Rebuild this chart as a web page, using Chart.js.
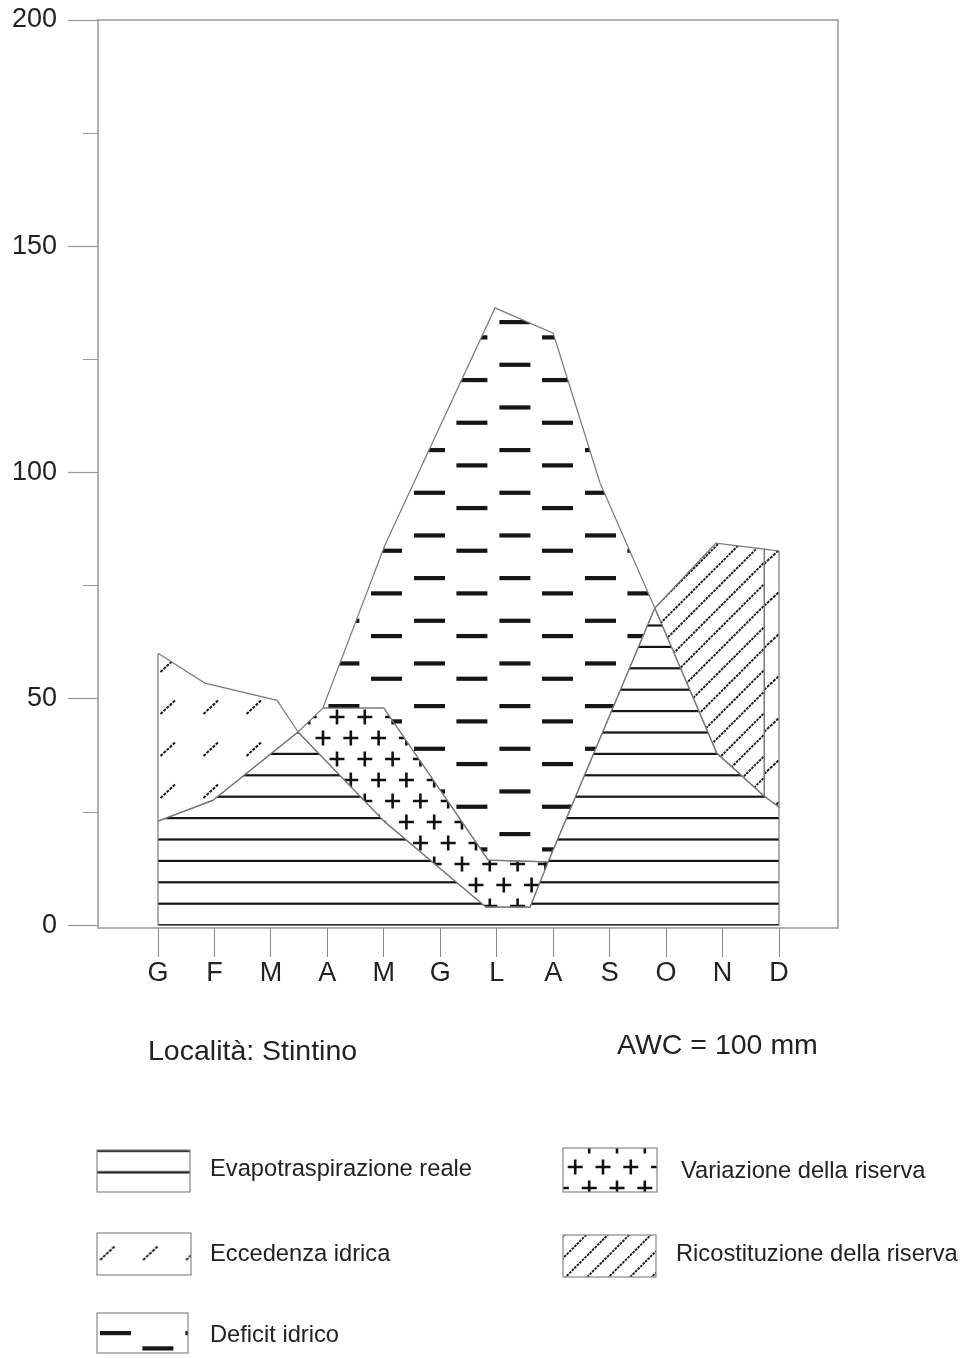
<!DOCTYPE html>
<html>
<head>
<meta charset="utf-8">
<script src="https://cdn.jsdelivr.net/npm/chart.js@4.4.1/dist/chart.umd.min.js"></script>
<style>
  html, body { margin: 0; padding: 0; background: #fff; }
  canvas { display: block; }
</style>
</head>
<body>
<canvas id="bilancio" width="962" height="1358"></canvas>
<script>
// mesi, G = gennaio ... D = dicembre
const months = ['G', 'F', 'M', 'A', 'M', 'G', 'L', 'A', 'S', 'O', 'N', 'D'];
const yTicks = [0, 25, 50, 75, 100, 125, 150, 175, 200];

// spezzate: [mese (0 = G), mm]
const precipitazioni = [[0, 60.1], [0.83, 53.5], [2.11, 49.7], [2.48, 42.7], [4.02, 22.8], [5.81, 4], [6.59, 4], [6.91, 14], [8.8, 70.1], [9.88, 84.4], [10.74, 83.1], [11, 82.7]];
const evapPotenziale = [[0, 23], [0.97, 27.6], [2.48, 42.7], [2.92, 48], [4.02, 84], [5.97, 136.4], [7, 130.8], [7.83, 97.7], [8.8, 70.1], [9.9, 38], [10.74, 28.5], [11, 26.1]];
const evapReale = [[2.92, 48], [4.0, 48], [5.85, 14.4], [6.91, 14]];

// tratto di una spezzata, da i a j (anche a ritroso)
function seg(line, i, j) {
  const out = [];
  const step = i <= j ? 1 : -1;
  for (let k = i; k !== j + step; k += step) out.push(line[k]);
  return out;
}

const P = precipitazioni, PE = evapPotenziale, ER = evapReale;
const areaETR = [[0, 0], ...seg(PE, 0, 2), ...seg(P, 4, 8), ...seg(PE, 9, 11), [11, 0]];
const areaEccedenza1 = [...seg(P, 0, 3), ...seg(PE, 1, 0)];
const areaEccedenza2 = [...seg(P, 10, 11), ...seg(PE, 11, 10)];
const areaDeficit = [...seg(PE, 3, 8), ...seg(ER, 3, 0)];
const areaVariazione = [...seg(PE, 2, 3), ...seg(ER, 1, 3), ...seg(P, 6, 4)];
const areaRicostituzione = [...seg(P, 8, 10), ...seg(PE, 10, 9)];

const canvas = document.getElementById('bilancio');
const c2d = canvas.getContext('2d');

// retini (pattern) per le campiture
function makePattern(w, h, draw) {
  const t = document.createElement('canvas');
  t.width = w; t.height = h;
  const g = t.getContext('2d');
  const at = (x, y, mark) => {
    const bx = ((x % w) + w) % w, by = ((y % h) + h) % h;
    for (const dx of [-w, 0, w]) for (const dy of [-h, 0, h]) mark(g, bx + dx, by + dy);
  };
  draw(g, at);
  return c2d.createPattern(t, 'repeat');
}

const righe = makePattern(8, 107, (g, at) => {
  g.fillStyle = '#151515';
  for (let k = 0; k < 5; k++) at(0, 925 + 21.4 * k, (g, x, y) => g.fillRect(x, y - 1, 8, 2.2));
});

const dash = (g, x, y) => g.fillRect(x, y - 2, 31, 4.2);
const trattini = makePattern(171, 128, (g, at) => {
  g.fillStyle = '#151515';
  for (let i = 0; i < 2; i++) for (let j = 0; j < 3; j++) {
    at(414 + 85.4 * i, 322 + 42.67 * j, dash);
    at(371 + 85.4 * i, 337.3 + 42.67 * j, dash);
  }
});

const plus = (g, x, y) => {
  g.beginPath();
  g.moveTo(x - 7.5, y); g.lineTo(x + 7.5, y);
  g.moveTo(x, y - 7.5); g.lineTo(x, y + 7.5);
  g.stroke();
};
const croci = makePattern(139, 42, (g, at) => {
  g.strokeStyle = '#111'; g.lineWidth = 2.6;
  for (let r = 0; r < 2; r++) for (let k = 0; k < 5; k++) at(323 + 14 * r + 27.8 * k, 738 + 21 * r, plus);
});

const slash = (g, x, y) => {
  g.beginPath(); g.moveTo(x - 7.5, y + 7); g.lineTo(x + 7.5, y - 7); g.stroke();
};
function barrette(x0, y0) {
  return makePattern(43, 42, (g, at) => {
    g.strokeStyle = '#1a1a1a'; g.lineWidth = 2; g.setLineDash([3, 1.2]);
    at(x0, y0, slash);
  });
}
const barrette1 = barrette(168, 665);
const barrette2 = barrette(771.5, 557);

const tratteggio = makePattern(43, 43, (g) => {
  g.strokeStyle = '#1a1a1a'; g.lineWidth = 1.9; g.setLineDash([2.6, 1]);
  for (let c = 15.2 - 43; c < 130; c += 21.5) {
    g.beginPath(); g.moveTo(-5, c + 5); g.lineTo(c + 5, -5); g.stroke();
  }
});

function area(label, pts, pattern) {
  const closed = pts.concat([pts[0]]);
  return {
    label,
    data: closed.map(([x, y]) => ({ x, y })),
    backgroundColor: pattern,
    borderColor: '#7a7a7a',
    borderWidth: 1.2,
    fill: 'shape',
    pointRadius: 0,
    tension: 0
  };
}

// legenda: [indice dataset, riquadro x, y, w, h, testo x, linea base, spostamento retino]
const legendItems = [
  [0, 97, 1150, 93, 42, 210, 1176, [0, 11.8]],
  [1, 97, 1233, 94, 42, 210, 1261, [25.5, 0]],
  [3, 97, 1313, 91, 40, 210, 1342, [28, -13]],
  [4, 563, 1148, 94, 44, 681, 1178, [2, 9]],
  [5, 563, 1235, 93, 42, 676, 1261, [0, 0]]
];

const cornice = {
  id: 'cornice',
  afterDatasetsDraw(chart) {
    const { ctx, chartArea: a } = chart;
    ctx.save();
    ctx.strokeStyle = '#999';
    ctx.lineWidth = 1.5;
    ctx.strokeRect(a.left, a.top, a.right - a.left, a.bottom - a.top);
    ctx.restore();
  },
  afterDraw(chart) {
    const ctx = chart.ctx;
    ctx.save();
    ctx.fillStyle = '#222';
    ctx.font = "28.5px 'Liberation Sans', Arial, sans-serif";
    ctx.textBaseline = 'alphabetic';
    ctx.fillText('Località: Stintino', 148, 1060);
    ctx.fillText('AWC = 100 mm', 617, 1054);

    ctx.font = "23.7px 'Liberation Sans', Arial, sans-serif";
    for (const [i, x, y, w, h, tx, ty, [dx, dy]] of legendItems) {
      const ds = chart.data.datasets[i];
      ctx.save();
      ctx.beginPath(); ctx.rect(x, y, w, h); ctx.clip();
      ctx.translate(dx, dy);
      ctx.fillStyle = ds.backgroundColor;
      ctx.fillRect(x - dx, y - dy, w, h);
      ctx.restore();
      ctx.strokeStyle = '#888';
      ctx.lineWidth = 1.2;
      ctx.strokeRect(x, y, w, h);
      ctx.fillStyle = '#222';
      ctx.fillText(ds.label, tx, ty);
    }
    ctx.restore();
  }
};

Chart.defaults.font.family = "'Liberation Sans', Arial, sans-serif";
Chart.defaults.color = '#222';

new Chart(canvas, {
  type: 'line',
  data: {
    datasets: [
      area('Evapotraspirazione reale', areaETR, righe),
      area('Eccedenza idrica', areaEccedenza1, barrette1),
      area('Eccedenza idrica (dicembre)', areaEccedenza2, barrette2),
      area('Deficit idrico', areaDeficit, trattini),
      area('Variazione della riserva', areaVariazione, croci),
      area('Ricostituzione della riserva', areaRicostituzione, tratteggio)
    ]
  },
  options: {
    responsive: false,
    animation: false,
    layout: { padding: { left: 0, right: 124, top: 20, bottom: 370 } },
    plugins: { legend: { display: false }, tooltip: { enabled: false } },
    scales: {
      x: {
        type: 'linear',
        min: -1.063,
        max: 12.045,
        afterBuildTicks: s => { s.ticks = months.map((m, i) => ({ value: i })); },
        afterFit: s => { s.height = 60; s.paddingLeft = 0; s.paddingRight = 0; },
        border: { display: false },
        grid: { drawOnChartArea: false, tickLength: 29, tickColor: '#888', tickWidth: 1 },
        ticks: {
          autoSkip: false,
          maxRotation: 0,
          padding: 3,
          font: { size: 27, lineHeight: 1 },
          callback: v => months[v] ?? ''
        }
      },
      y: {
        min: -0.6,
        max: 200,
        afterBuildTicks: s => { s.ticks = yTicks.map(v => ({ value: v })); },
        afterFit: s => { s.width = 98; s.paddingTop = 0; s.paddingBottom = 0; },
        border: { display: false },
        grid: {
          drawOnChartArea: false,
          tickLength: 30,
          tickColor: '#999',
          tickWidth: 1.2,
          tickBorderDash: c => (c.tick && c.tick.value % 50 !== 0) ? [0, 15, 15, 0] : []
        },
        ticks: {
          padding: 11,
          font: { size: 27 },
          callback: v => (v % 50 === 0 ? v : '')
        }
      }
    }
  },
  plugins: [cornice]
});
</script>
</body>
</html>
